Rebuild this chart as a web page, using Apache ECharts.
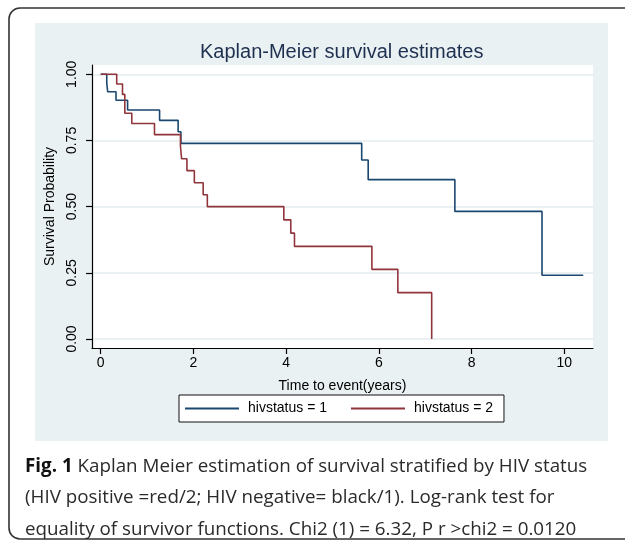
<!DOCTYPE html>
<html>
<head>
<meta charset="utf-8">
<script src="https://cdn.jsdelivr.net/npm/echarts@6/dist/echarts.min.js"></script>
<style>
html,body{margin:0;padding:0;background:#fff;}
#c{width:625px;height:540px;}
</style>
</head>
<body>
<div id="c"></div>
<script>
// ---- data ----
var xTicks = [0, 2, 4, 6, 8, 10];
var yTicks = [0, 0.25, 0.5, 0.75, 1];

var blueName = 'hivstatus = 1';
var blueTime = [0, 0.13, 0.15, 0.33, 0.58, 1.27, 1.67, 1.73, 5.63, 5.77, 7.64, 9.52, 10.41];
var blueSurv = [1, 0.968, 0.934, 0.902, 0.865, 0.826, 0.783, 0.739, 0.676, 0.602, 0.482, 0.241, 0.241];

var redName = 'hivstatus = 2';
var redTime = [0, 0.345, 0.47, 0.52, 0.67, 1.16, 1.72, 1.745, 1.86, 2.02, 2.21, 2.30, 3.95, 4.10, 4.18, 5.85, 6.41, 7.14];
var redSurv = [1, 0.963, 0.924, 0.853, 0.814, 0.772, 0.729, 0.681, 0.636, 0.590, 0.545, 0.500, 0.45, 0.40, 0.350, 0.263, 0.175, 0];

var titleText = 'Kaplan-Meier survival estimates';
var xTitle = 'Time to event(years)';
var yTitle = 'Survival Probability';
var captionLines = [
  '{b|Fig. 1} Kaplan Meier estimation of survival stratified by HIV status',
  '(HIV positive =red/2; HIV negative= black/1). Log-rank test for',
  'equality of survivor functions. Chi2 (1) = 6.32, P r >chi2 = 0.0120'
];

function pairs(xs, ys) { return xs.map(function (x, i) { return [x, ys[i]]; }); }

var chart = echarts.init(document.getElementById('c'), null, {renderer: 'canvas'});
var AX = 'Liberation Sans, Arial, Helvetica, sans-serif';
var CAP = '"Open Sans", sans-serif';

var captionGraphics = captionLines.map(function (t, i) {
  return {
    type: 'text', left: 25, top: 457 + i * 31.5, z: 10, silent: true,
    style: {
      text: t, fill: '#2a2a2a', font: '18.8px ' + CAP,
      rich: { b: { fontWeight: 'bold', fontFamily: CAP, fontSize: 18.8, fill: '#111' } }
    }
  };
});

var option = {
  animation: false,
  backgroundColor: '#fff',
  title: {
    text: titleText, left: 200, top: 42, padding: 0,
    textStyle: { fontFamily: AX, fontSize: 20, fontWeight: 'normal', color: '#1e3050' }
  },
  graphic: [
    { type: 'rect', z: -20, silent: true,
      shape: { x: 9, y: 8, width: 700, height: 531, r: 11 },
      style: { fill: '#fff', stroke: '#333', lineWidth: 1.6 } },
    { type: 'rect', z: -10, silent: true,
      shape: { x: 35, y: 23, width: 573, height: 418 },
      style: { fill: '#eaf1f3' } }
  ].concat(captionGraphics),
  legend: {
    left: 179, top: 395, padding: [6, 11, 6, 6],
    itemWidth: 54, itemHeight: 2, itemGap: 24, icon: 'rect',
    backgroundColor: '#fff', borderColor: '#111', borderWidth: 1,
    textStyle: { fontFamily: AX, fontSize: 14, color: '#000', padding: [0, 0, 0, 4], lineHeight: 15 },
    data: [blueName, redName]
  },
  grid: {
    left: 92, top: 65, width: 501, height: 283,
    show: true, backgroundColor: '#fff', borderWidth: 0,
    containLabel: false
  },
  xAxis: {
    type: 'value', min: -0.188, max: 10.62,
    name: xTitle, nameLocation: 'middle', nameGap: 31,
    nameTextStyle: { fontFamily: AX, fontSize: 14, color: '#000' },
    axisLine: { show: true, onZero: false, lineStyle: { color: '#000', width: 1.2 } },
    axisTick: { show: true, length: 6, customValues: xTicks, lineStyle: { color: '#000', width: 1.2 } },
    axisLabel: { customValues: xTicks, fontFamily: AX, fontSize: 14, color: '#000', margin: 8 },
    splitLine: { show: false }
  },
  yAxis: {
    type: 'value', min: -0.034, max: 1.035,
    name: yTitle, nameLocation: 'middle', nameGap: 30, nameRotate: 90,
    nameTextStyle: { fontFamily: AX, fontSize: 14, color: '#000' },
    axisLine: { show: true, onZero: false, lineStyle: { color: '#000', width: 1.2 } },
    axisTick: { show: true, length: 6, customValues: yTicks, lineStyle: { color: '#000', width: 1.2 } },
    axisLabel: { customValues: yTicks, rotate: 90, fontFamily: AX, fontSize: 14, color: '#000', margin: 13,
      formatter: function (v) { return v.toFixed(2); } },
    splitLine: { show: true, lineStyle: { color: '#e4ecef', width: 1.5 } }
  },
  series: [
    { name: blueName, type: 'line', step: 'end', symbol: 'none', showSymbol: false,
      data: pairs(blueTime, blueSurv),
      lineStyle: { color: '#1a476f', width: 1.6 }, itemStyle: { color: '#1a476f' } },
    { name: redName, type: 'line', step: 'end', symbol: 'none', showSymbol: false,
      data: pairs(redTime, redSurv),
      lineStyle: { color: '#90353b', width: 1.6 }, itemStyle: { color: '#90353b' } }
  ]
};
chart.setOption(option);
</script>
</body>
</html>
